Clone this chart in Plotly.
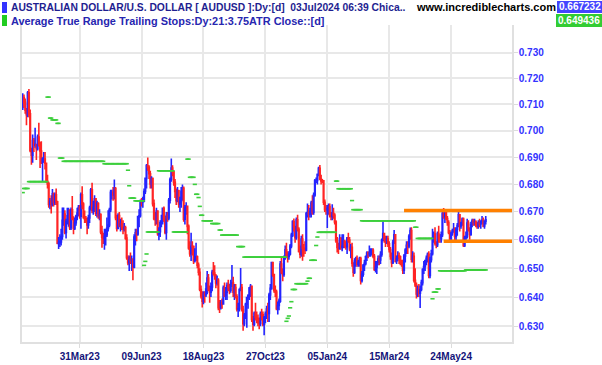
import numpy as np
import pandas as pd
import plotly.graph_objects as go

# ---------------- data (prices in pips, i.e. x 0.0001) ----------------
start_date = "2023-01-26"
first_open = 7087

close_pips = [
    7125, 7107,
    7077, 7060, 7144, 7063, 6925,
    6908, 6962, 6946, 6947, 6932,
    6975, 6952, 6923, 6882, 6893,
    6893, 6878, 6811, 6802, 6727,
    6738, 6728, 6766, 6734, 6762,
    6737, 6588, 6589, 6593, 6612,
    6670, 6692, 6626, 6665, 6686,
    6705, 6643, 6708, 6676, 6641,
    6661, 6684, 6696, 6716, 6685,
    6762, 6728, 6682, 6675, 6668,
    6653, 6678, 6714, 6780, 6705,
    6716, 6747, 6695, 6730, 6688,
    6690, 6628, 6609, 6604, 6613,
    6618, 6641, 6653, 6708, 6771,
    6771, 6761, 6784, 6679, 6641,
    6687, 6653, 6658, 6646, 6639,
    6643, 6606, 6537, 6519, 6529,
    6527, 6530, 6504, 6610, 6625,
    6621, 6683, 6686, 6738, 6737,
    6739, 6774, 6822, 6868, 6863,
    6839, 6802, 6821, 6730, 6676,
    6673, 6703, 6622, 6629, 6661,
    6666, 6713, 6674, 6626, 6687,
    6678, 6742, 6818, 6860, 6846,
    6808, 6774, 6741, 6777, 6729,
    6738, 6775, 6786, 6674, 6714,
    6720, 6648, 6571, 6551, 6577,
    6576, 6526, 6530, 6540, 6511,
    6486, 6426, 6404, 6386, 6410,
    6408, 6428, 6466, 6426, 6417,
    6435, 6486, 6483, 6473, 6449,
    6458, 6363, 6363, 6381, 6376,
    6431, 6405, 6417, 6440, 6433,
    6424, 6447, 6448, 6417, 6433,
    6401, 6359, 6360, 6425, 6433,
    6357, 6309, 6337, 6375, 6398,
    6405, 6431, 6437, 6323, 6307,
    6344, 6331, 6326, 6313, 6310,
    6342, 6339, 6306, 6330, 6342,
    6359, 6344, 6407, 6430, 6520,
    6478, 6423, 6417, 6360, 6371,
    6386, 6515, 6487, 6478, 6540,
    6565, 6543, 6541, 6550, 6578,
    6617, 6665, 6647, 6608, 6672,
    6638, 6559, 6549, 6603, 6570,
    6569, 6564, 6693, 6699, 6692,
    6701, 6732, 6699, 6761, 6814,
    6814, 6836, 6859, 6820, 6813,
    6813, 6735, 6708, 6708, 6713,
    6719, 6687, 6684, 6695, 6688,
    6664, 6597, 6573, 6570, 6605,
    6575, 6577, 6596, 6578, 6576,
    6606, 6599, 6568, 6574, 6518,
    6486, 6525, 6534, 6514, 6521,
    6534, 6457, 6479, 6509, 6517,
    6540, 6553, 6551, 6552, 6557,
    6563, 6542, 6497, 6503, 6521,
    6532, 6529, 6548, 6598, 6622,
    6603, 6600, 6603, 6586, 6566,
    6541, 6519, 6591, 6618, 6525,
    6534, 6543, 6540, 6518, 6517,
    6493, 6543, 6564, 6581, 6578,
    6613, 6633, 6532, 6542, 6458,
    6442, 6411, 6424, 6413, 6426,
    6450, 6495, 6506, 6527, 6535,
    6549, 6475, 6530, 6551, 6607,
    6621, 6588, 6583, 6622, 6604,
    6604, 6618, 6694, 6684, 6699,
    6676, 6662, 6626, 6597, 6622,
    6632, 6638, 6612, 6638, 6651,
    6690, 6650, 6660, 6674, 6580,
    6608, 6612, 6660, 6640, 6619,
    6655, 6667, 6663, 6664, 6656,
    6649, 6659, 6658, 6665, 6670,
    6650, 6667, 6672,
]

high_pips = [
    7142, 7137,
    7122, 7085, 7150, 7158, 7080,
    6935, 6985, 6972, 7010, 6950,
    6985, 7029, 6958, 6960, 6900,
    6920, 6920, 6880, 6835, 6810,
    6750, 6760, 6783, 6770, 6770,
    6785, 6740, 6610, 6620, 6640,
    6716, 6716, 6706, 6675, 6715,
    6715, 6710, 6716, 6758, 6684,
    6680, 6690, 6715, 6725, 6725,
    6770, 6793, 6735, 6705, 6685,
    6680, 6690, 6722, 6787, 6806,
    6740, 6760, 6750, 6740, 6735,
    6710, 6695, 6650, 6625, 6640,
    6640, 6680, 6706, 6715, 6780,
    6780, 6790, 6818, 6790, 6690,
    6695, 6700, 6675, 6680, 6670,
    6660, 6650, 6620, 6545, 6545,
    6555, 6545, 6535, 6620, 6640,
    6640, 6685, 6710, 6745, 6750,
    6755, 6785, 6825, 6875, 6899,
    6870, 6850, 6830, 6825, 6745,
    6700, 6715, 6705, 6645, 6670,
    6690, 6715, 6720, 6685, 6700,
    6700, 6750, 6825, 6895, 6870,
    6850, 6820, 6785, 6790, 6780,
    6755, 6790, 6800, 6792, 6725,
    6735, 6720, 6655, 6595, 6625,
    6595, 6580, 6570, 6590, 6545,
    6520, 6500, 6440, 6420, 6420,
    6420, 6450, 6490, 6480, 6440,
    6450, 6495, 6522, 6510, 6480,
    6475, 6465, 6390, 6390, 6395,
    6440, 6450, 6435, 6450, 6460,
    6445, 6460, 6511, 6470, 6445,
    6445, 6410, 6380, 6430, 6501,
    6445, 6370, 6345, 6380, 6400,
    6410, 6435, 6445, 6440, 6335,
    6350, 6380, 6350, 6340, 6330,
    6350, 6360, 6350, 6335, 6350,
    6370, 6380, 6415, 6445, 6522,
    6515, 6480, 6440, 6425, 6385,
    6395, 6525, 6540, 6500, 6545,
    6580, 6590, 6560, 6560, 6585,
    6625, 6670, 6676, 6650, 6680,
    6690, 6645, 6580, 6615, 6620,
    6585, 6595, 6700, 6730, 6725,
    6715, 6740, 6760, 6770, 6820,
    6825, 6840, 6865, 6871, 6835,
    6820, 6815, 6745, 6725, 6725,
    6730, 6730, 6700, 6728, 6715,
    6695, 6670, 6610, 6590, 6620,
    6610, 6620, 6620, 6600, 6595,
    6610, 6625, 6610, 6585, 6590,
    6520, 6535, 6540, 6545, 6530,
    6540, 6540, 6490, 6515, 6530,
    6545, 6560, 6560, 6580, 6570,
    6570, 6570, 6550, 6525, 6525,
    6545, 6545, 6560, 6605, 6668,
    6625, 6615, 6615, 6615, 6595,
    6575, 6555, 6600, 6635, 6620,
    6545, 6560, 6555, 6545, 6530,
    6530, 6550, 6570, 6595, 6595,
    6620, 6644, 6645, 6560, 6555,
    6500, 6450, 6440, 6445, 6440,
    6460, 6500, 6525, 6530, 6545,
    6555, 6560, 6540, 6565, 6640,
    6630, 6645, 6595, 6630, 6650,
    6620, 6630, 6700, 6714, 6705,
    6705, 6685, 6670, 6635, 6630,
    6640, 6660, 6645, 6645, 6660,
    6705, 6690, 6665, 6680, 6680,
    6615, 6630, 6675, 6670, 6645,
    6665, 6675, 6675, 6675, 6670,
    6665, 6670, 6675, 6670, 6685,
    6680, 6670, 6685,
]

low_pips = [
    7078, 7086,
    7063, 7020, 7050, 7050, 6919,
    6872, 6880, 6920, 6935, 6890,
    6925, 6940, 6860, 6875, 6810,
    6880, 6855, 6805, 6785, 6715,
    6710, 6694, 6720, 6720, 6725,
    6725, 6584, 6568, 6575, 6580,
    6600, 6650, 6620, 6605, 6655,
    6647, 6635, 6635, 6670, 6620,
    6635, 6650, 6670, 6685, 6675,
    6640, 6710, 6675, 6660, 6660,
    6620, 6640, 6660, 6705, 6695,
    6690, 6700, 6685, 6680, 6675,
    6670, 6620, 6572, 6585, 6565,
    6580, 6610, 6630, 6645, 6700,
    6745, 6740, 6745, 6670, 6630,
    6640, 6645, 6630, 6635, 6620,
    6630, 6600, 6530, 6510, 6490,
    6515, 6490, 6458, 6500, 6580,
    6595, 6615, 6645, 6680, 6720,
    6715, 6735, 6765, 6785, 6850,
    6820, 6785, 6785, 6720, 6670,
    6650, 6655, 6615, 6599, 6610,
    6645, 6655, 6665, 6620, 6600,
    6665, 6670, 6730, 6810, 6830,
    6795, 6750, 6725, 6735, 6715,
    6700, 6715, 6740, 6665, 6655,
    6690, 6620, 6565, 6540, 6525,
    6545, 6515, 6520, 6525, 6500,
    6475, 6420, 6395, 6364, 6375,
    6380, 6400, 6410, 6420, 6380,
    6400, 6420, 6475, 6460, 6430,
    6440, 6355, 6345, 6357, 6360,
    6375, 6400, 6390, 6390, 6420,
    6410, 6415, 6435, 6400, 6390,
    6395, 6350, 6332, 6350, 6420,
    6350, 6285, 6300, 6325, 6295,
    6360, 6390, 6400, 6315, 6285,
    6300, 6320, 6310, 6300, 6290,
    6300, 6320, 6300, 6270, 6310,
    6325, 6315, 6315, 6390, 6425,
    6470, 6415, 6400, 6355, 6340,
    6355, 6380, 6480, 6455, 6470,
    6530, 6535, 6520, 6530, 6545,
    6570, 6610, 6630, 6590, 6600,
    6630, 6555, 6535, 6540, 6526,
    6540, 6550, 6560, 6680, 6670,
    6680, 6680, 6690, 6690, 6755,
    6805, 6800, 6830, 6815, 6800,
    6805, 6725, 6700, 6690, 6642,
    6690, 6680, 6670, 6670, 6675,
    6655, 6590, 6555, 6550, 6565,
    6565, 6560, 6570, 6570, 6565,
    6550, 6590, 6560, 6535, 6505,
    6470, 6480, 6505, 6505, 6505,
    6505, 6443, 6450, 6470, 6490,
    6510, 6525, 6535, 6540, 6540,
    6545, 6535, 6490, 6485, 6480,
    6510, 6510, 6515, 6540, 6595,
    6590, 6575, 6585, 6575, 6555,
    6530, 6503, 6515, 6585, 6520,
    6515, 6525, 6515, 6510, 6505,
    6480, 6480, 6520, 6550, 6550,
    6570, 6600, 6520, 6520, 6450,
    6435, 6395, 6400, 6400, 6362,
    6420, 6440, 6480, 6490, 6510,
    6520, 6465, 6465, 6520, 6545,
    6590, 6580, 6570, 6575, 6590,
    6590, 6590, 6610, 6675, 6660,
    6670, 6650, 6620, 6589, 6590,
    6615, 6625, 6590, 6595, 6615,
    6645, 6630, 6640, 6650, 6575,
    6575, 6590, 6605, 6630, 6600,
    6615, 6645, 6650, 6650, 6645,
    6640, 6640, 6645, 6640, 6655,
    6645, 6640, 6655,
]

# ATR trailing stop (21, 3.75 ATR): levels and the number of days each level is held
stop_levels = [6770, 6785, 6810, 7127, 7047, 7040, 7027, 6897, 6885, 6876,
               6852, 6795, 6750, 6740, 6510, 6524, 6550, 6628, 6850, 6628,
               6893, 6826, 6800, 6764, 6752, 6720, 6688, 6668, 6658, 6635,
               6617, 6576, 6539, 6317, 6327, 6335, 6363, 6384, 6426, 6446,
               6455, 6465, 6528, 6580, 6610, 6627, 6812, 6784, 6741, 6708,
               6668, 6645, 6605, 6394, 6417, 6428, 6491, 6494]
stop_days = [1, 4, 15, 2, 2, 4, 2, 3, 33, 19,
             1, 1, 4, 7, 1, 1, 1, 9, 12, 11,
             2, 4, 1, 2, 1, 1, 2, 7, 6, 2,
             13, 5, 34, 1, 1, 1, 1, 1, 3, 9,
             1, 2, 4, 1, 1, 14, 2, 11, 1, 7,
             43, 2, 12, 1, 3, 2, 21, 17]

tick_dates = ["2023-03-31", "2023-06-09", "2023-08-18", "2023-10-27",
              "2024-01-05", "2024-03-15", "2024-05-24"]
tick_labels = ["31Mar23", "09Jun23", "18Aug23", "27Oct23",
               "05Jan24", "15Mar24", "24May24"]
price_ticks = [0.63, 0.64, 0.65, 0.66, 0.67, 0.68, 0.69, 0.70, 0.71, 0.72, 0.73]

resistance_level = 0.6705
resistance_from = "2024-04-02"
support_level = 0.6595
support_from = "2024-05-16"

last_price_label = "0.667232"
last_stop_label = "0.649436"

# ---------------- build ----------------
n = len(close_pips)
assert len(high_pips) == n and len(low_pips) == n and sum(stop_days) == n

dates = pd.bdate_range(start_date, periods=n)
idx = np.arange(n)
close_ = np.array(close_pips) / 10000.0
high_ = np.array(high_pips) / 10000.0
low_ = np.array(low_pips) / 10000.0
open_ = np.concatenate([[first_open / 10000.0], close_[:-1]])
stops = np.repeat(np.array(stop_levels) / 10000.0, stop_days)

def pos(d):
    return int(dates.get_loc(pd.Timestamp(d)))

tickvals = [pos(d) for d in tick_dates]
x_min = -0.6
x_max = n - 1 + 21.2

BLUE = "#2424ff"
RED = "#ff2424"
GREEN = "#3ccf3c"
ORANGE = "#ff8000"
GRID = "#e8e8e8"

fig = go.Figure()

fig.add_trace(go.Candlestick(
    x=idx, open=open_, high=high_, low=low_, close=close_,
    increasing=dict(line=dict(color=BLUE, width=1.6), fillcolor=BLUE),
    decreasing=dict(line=dict(color=RED, width=1.6), fillcolor=RED),
    whiskerwidth=0, hoverinfo="skip", showlegend=False,
))

fig.add_trace(go.Scatter(
    x=idx, y=stops, mode="markers",
    marker=dict(symbol="line-ew", size=3, line=dict(color=GREEN, width=1.6)),
    hoverinfo="skip", showlegend=False,
))

for lvl, frm in [(resistance_level, resistance_from), (support_level, support_from)]:
    fig.add_trace(go.Scatter(
        x=[pos(frm), x_max], y=[lvl, lvl], mode="lines",
        line=dict(color=ORANGE, width=3.5),
        hoverinfo="skip", showlegend=False,
    ))

# layout geometry (pixels)
W, H = 602, 365
ML, MR, MT, MB = 22, 90, 25, 23
PW, PH = W - ML - MR, H - MT - MB

def px(xp):
    return (xp - ML) / PW

def py(yp):
    return (H - MB - yp) / PH

font_fam = "Liberation Sans, Arial, sans-serif"

fig.update_layout(
    width=W, height=H,
    margin=dict(l=ML, r=MR, t=MT, b=MB, autoexpand=False),
    paper_bgcolor="white", plot_bgcolor="white",
    showlegend=False,
    font=dict(family=font_fam),
    xaxis=dict(
        range=[x_min, x_max], tickmode="array", tickvals=tickvals, ticktext=tick_labels,
        showgrid=True, gridcolor=GRID, gridwidth=1.5,
        ticks="outside", ticklen=4, tickcolor="#dcdcdc",
        tickfont=dict(family=font_fam, size=10, color="#14147a", weight="bold"),
        showline=True, linecolor="#e0e0e0", linewidth=1.5,
        zeroline=False, rangeslider=dict(visible=False), fixedrange=True,
        automargin=False,
    ),
    yaxis=dict(
        type="log", side="right",
        range=[np.log10(0.6247), np.log10(0.7409)],
        tickmode="array", tickvals=price_ticks,
        ticktext=[f"{v:.3f}" for v in price_ticks],
        showgrid=True, gridcolor=GRID, gridwidth=1.5,
        ticks="outside", ticklen=4, tickcolor="#dcdcdc",
        ticklabelstandoff=-1,
        tickfont=dict(family=font_fam, size=10, color="#3333ff", weight="bold"),
        showline=True, mirror=True, linecolor="#e0e0e0", linewidth=1.5,
        zeroline=False, fixedrange=True, automargin=False,
    ),
)

# header markers and value boxes
shapes = [
    dict(type="rect", xref="paper", yref="paper", x0=px(2), x1=px(7), y0=py(13), y1=py(2),
         fillcolor="#3333ff", line=dict(width=0)),
    dict(type="rect", xref="paper", yref="paper", x0=px(2), x1=px(7), y0=py(26), y1=py(15),
         fillcolor="#22cc22", line=dict(width=0)),
    dict(type="rect", xref="paper", yref="paper", x0=px(557), x1=px(602), y0=py(13), y1=py(1),
         fillcolor="#4444ff", line=dict(width=0)),
    dict(type="rect", xref="paper", yref="paper", x0=px(556), x1=px(602), y0=py(27), y1=py(14),
         fillcolor="#33cc33", line=dict(width=0)),
]
fig.update_layout(shapes=shapes)

annos = [
    dict(text="AUSTRALIAN DOLLAR/U.S. DOLLAR [ AUDUSD ]:Dy:[d]&nbsp;&nbsp;03Jul2024 06:39 Chica..",
         x=px(10), y=py(7.5), xanchor="left", yanchor="middle",
         font=dict(family=font_fam, size=10.3, color="#1e1e90", weight="bold")),
    dict(text="Average True Range Trailing Stops:Dy:21:3.75ATR Close::[d]",
         x=px(10), y=py(20.5), xanchor="left", yanchor="middle",
         font=dict(family=font_fam, size=10.9, color="#2626b0", weight="bold")),
    dict(text="www.incrediblecharts.com",
         x=px(415), y=py(7.5), xanchor="left", yanchor="middle",
         font=dict(family=font_fam, size=11, color="#000000", weight="bold")),
    dict(text=last_price_label, x=px(579.5), y=py(7), xanchor="center", yanchor="middle",
         font=dict(family=font_fam, size=10, color="white", weight="bold")),
    dict(text=last_stop_label, x=px(579), y=py(20.5), xanchor="center", yanchor="middle",
         font=dict(family=font_fam, size=10, color="white", weight="bold")),
]
for a in annos:
    a.update(xref="paper", yref="paper", showarrow=False, borderpad=0)
fig.update_layout(annotations=annos)

fig.write_html("out.html",
               config={"displayModeBar": False},
               post_script="document.body.style.margin='0';document.body.style.padding='0';")
